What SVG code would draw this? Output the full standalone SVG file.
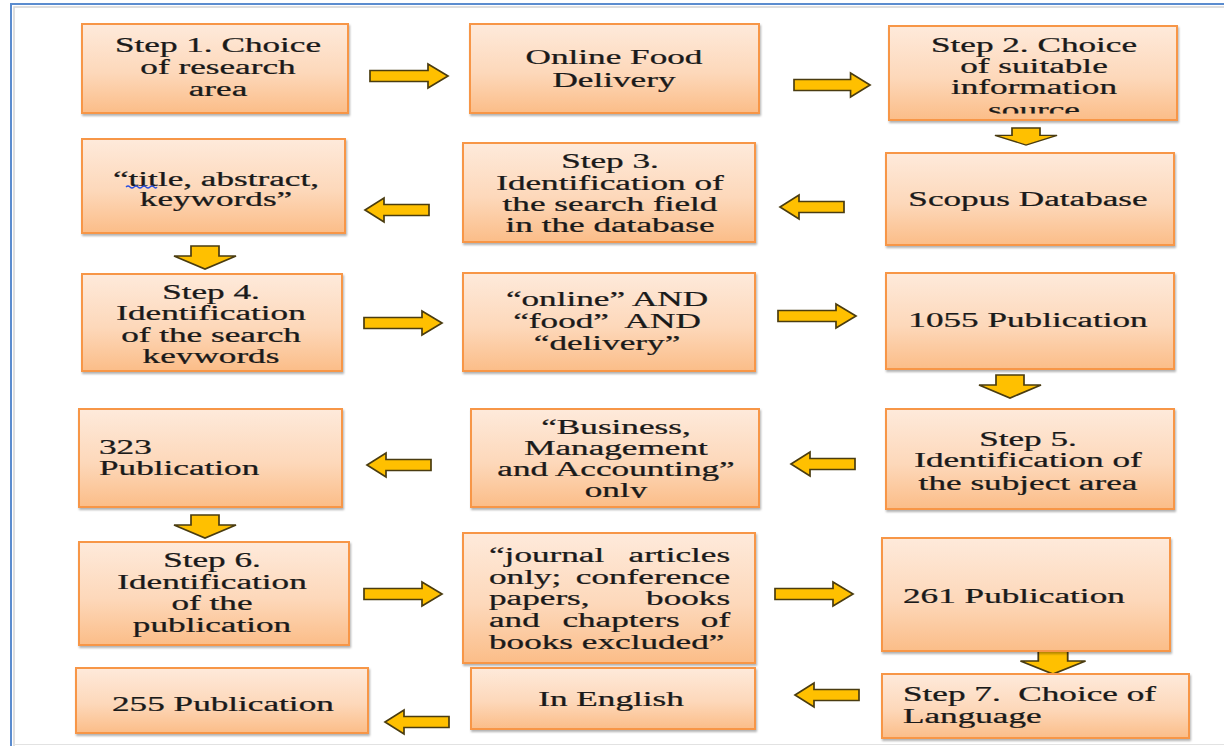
<svg xmlns="http://www.w3.org/2000/svg" width="1224" height="746" viewBox="0 0 1224 746">
<style>
.box{fill:url(#og);stroke:#F79646;stroke-width:2;filter:url(#sh)}
.t{font-family:"Liberation Serif","Times New Roman",serif;font-size:20px;fill:#1a1a1a;stroke:#1a1a1a;stroke-width:0.25}
.c{text-anchor:middle}
.arr{fill:#FFC000;stroke:#4a3c10;stroke-width:1.7;stroke-linejoin:miter}
</style>
<defs>
<linearGradient id="og" x1="0" y1="0" x2="0" y2="1">
<stop offset="0" stop-color="#FEEADB"/>
<stop offset="0.55" stop-color="#FDD8BA"/>
<stop offset="1" stop-color="#FBBD88"/>
</linearGradient>
<filter id="sh" x="-5%" y="-5%" width="112%" height="115%">
<feDropShadow dx="1" dy="2" stdDeviation="1.2" flood-color="#000" flood-opacity="0.3"/>
</filter>
<path id="ra" d="M0,-5.5 H58 V-12 L78,0 L58,12 V5.5 H0 Z"/>
<path id="la" d="M0,-5.5 H-45 V-12 L-64,0 L-45,12 V5.5 H0 Z"/>
<path id="da" d="M-14,0 H14 V10 H31 L0,23 L-31,10 H-14 Z"/>
<clipPath id="clipC"><rect x="889" y="26" width="288" height="87.5"/></clipPath>
<clipPath id="clipG"><rect x="82" y="274" width="260" height="90"/></clipPath>
<clipPath id="clipK"><rect x="471" y="409" width="288" height="89"/></clipPath>
</defs>

<rect width="1224" height="746" fill="#ffffff"/>
<g id="frame" fill="none">
<path d="M11,746 V4 H1224" stroke="#5B8CCF" stroke-width="2"/>
<path d="M14,746 V7 H1224" stroke="#d4d4d4" stroke-width="1.5"/>
<path d="M13,744.5 H1224" stroke="#e2e2e2" stroke-width="1"/>
</g>

<g id="connectors">
<use href="#ra" class="arr" transform="translate(370,76)"/>
<use href="#ra" class="arr" transform="translate(794,85) scale(0.975,1)"/>
<use href="#da" class="arr" transform="translate(1026,128) scale(1,0.74)"/>
<use href="#la" class="arr" transform="translate(844,207)"/>
<use href="#la" class="arr" transform="translate(429,210)"/>
<use href="#da" class="arr" transform="translate(205,246)"/>
<use href="#ra" class="arr" transform="translate(364,323)"/>
<use href="#ra" class="arr" transform="translate(778,316)"/>
<use href="#da" class="arr" transform="translate(1010,375)"/>
<use href="#la" class="arr" transform="translate(855,464)"/>
<use href="#la" class="arr" transform="translate(431,465)"/>
<use href="#da" class="arr" transform="translate(205,515)"/>
<use href="#ra" class="arr" transform="translate(364,594)"/>
<use href="#ra" class="arr" transform="translate(775,594)"/>
<use href="#da" class="arr" transform="translate(1053,651) scale(1.05,1)"/>
<use href="#la" class="arr" transform="translate(859,695)"/>
<use href="#la" class="arr" transform="translate(449,722)"/>
</g>

<g id="n1">
<rect class="box" x="82" y="24" width="266" height="89"/>
<g class="t c" transform="translate(218,0) scale(1.76,1)">
<text x="0" y="52">Step 1. Choice</text>
<text x="0" y="74">of research</text>
<text x="0" y="96">area</text>
</g>
</g>

<g id="n2">
<rect class="box" x="470" y="24" width="289" height="89"/>
<g class="t c" transform="translate(614,0) scale(1.76,1)">
<text x="0" y="64">Online Food</text>
<text x="0" y="87">Delivery</text>
</g>
</g>

<g id="n3">
<rect class="box" x="889" y="26" width="288" height="94"/>
<g clip-path="url(#clipC)">
<g class="t c" transform="translate(1034,0) scale(1.76,1)">
<text x="0" y="52">Step 2. Choice</text>
<text x="0" y="73">of suitable</text>
<text x="0" y="94">information</text>
<text x="0" y="117">source</text>
</g>
</g>
</g>

<g id="n4">
<rect class="box" x="82" y="139" width="263" height="94"/>
<g class="t c" transform="translate(216,0) scale(1.76,1)">
<text x="0" y="186">“title, abstract,</text>
<text x="0" y="206">keywords”</text>
</g>
<path d="M126,187 q2,-2 4,0 t4,0 t4,0 t4,0 t4,0 t4,0 t4,0 t3,0" fill="none" stroke="#2a4fe0" stroke-width="1.3"/>
</g>

<g id="n5">
<rect class="box" x="463" y="143" width="292" height="99"/>
<g class="t c" transform="translate(610,0) scale(1.76,1)">
<text x="0" y="168">Step 3.</text>
<text x="0" y="190">Identification of</text>
<text x="0" y="211">the search field</text>
<text x="0" y="232">in the database</text>
</g>
</g>

<g id="n6">
<rect class="box" x="886" y="153" width="288" height="92"/>
<g class="t c" transform="translate(1028,0) scale(1.76,1)">
<text x="0" y="206">Scopus Database</text>
</g>
</g>

<g id="n7">
<rect class="box" x="82" y="274" width="260" height="97"/>
<g clip-path="url(#clipG)">
<g class="t c" transform="translate(211,0) scale(1.76,1)">
<text x="0" y="299">Step 4.</text>
<text x="0" y="320">Identification</text>
<text x="0" y="342">of the search</text>
<text x="0" y="363">keywords</text>
</g>
</g>
</g>

<g id="n8">
<rect class="box" x="463" y="273" width="292" height="98"/>
<g class="t c" transform="translate(607,0) scale(1.76,1)">
<text x="0" y="306">“online” AND</text>
<text x="0" y="328">“food”&#160; AND</text>
<text x="0" y="350">“delivery”</text>
</g>
</g>

<g id="n9">
<rect class="box" x="886" y="273" width="288" height="96"/>
<g class="t c" transform="translate(1028,0) scale(1.76,1)">
<text x="0" y="327">1055 Publication</text>
</g>
</g>

<g id="n10">
<rect class="box" x="79" y="409" width="263" height="98"/>
<g class="t" transform="translate(99,0) scale(1.76,1)">
<text x="0" y="454">323</text>
<text x="0" y="475">Publication</text>
</g>
</g>

<g id="n11">
<rect class="box" x="471" y="409" width="288" height="98"/>
<g clip-path="url(#clipK)">
<g class="t c" transform="translate(616,0) scale(1.76,1)">
<text x="0" y="434">“Business,</text>
<text x="0" y="455">Management</text>
<text x="0" y="476">and Accounting”</text>
<text x="0" y="497">only</text>
</g>
</g>
</g>

<g id="n12">
<rect class="box" x="886" y="409" width="288" height="100"/>
<g class="t c" transform="translate(1028,0) scale(1.76,1)">
<text x="0" y="446">Step 5.</text>
<text x="0" y="467">Identification of</text>
<text x="0" y="490">the subject area</text>
</g>
</g>

<g id="n13">
<rect class="box" x="79" y="542" width="270" height="103"/>
<g class="t c" transform="translate(212,0) scale(1.76,1)">
<text x="0" y="567">Step 6.</text>
<text x="0" y="589">Identification</text>
<text x="0" y="610">of the</text>
<text x="0" y="632">publication</text>
</g>
</g>

<g id="n14">
<rect class="box" x="463" y="533" width="292" height="130"/>
<g class="t" transform="translate(489,0) scale(1.76,1)">
<text x="0" y="562">“journal</text>
<text x="137" y="562" text-anchor="end">articles</text>
<text x="0" y="584">only;</text>
<text x="137" y="584" text-anchor="end">conference</text>
<text x="0" y="605">papers,</text>
<text x="137" y="605" text-anchor="end">books</text>
<text x="0" y="627">and</text>
<text x="75" y="627" text-anchor="middle">chapters</text>
<text x="137" y="627" text-anchor="end">of</text>
<text x="0" y="649">books excluded”</text>
</g>
</g>

<g id="n15">
<rect class="box" x="882" y="538" width="288" height="113"/>
<g class="t" transform="translate(903,0) scale(1.76,1)">
<text x="0" y="603">261 Publication</text>
</g>
</g>

<g id="n16">
<rect class="box" x="76" y="668" width="292" height="65"/>
<g class="t" transform="translate(112,0) scale(1.76,1)">
<text x="0" y="711">255 Publication</text>
</g>
</g>

<g id="n17">
<rect class="box" x="471" y="668" width="284" height="61"/>
<g class="t c" transform="translate(611,0) scale(1.76,1)">
<text x="0" y="706">In English</text>
</g>
</g>

<g id="n18">
<rect class="box" x="882" y="674" width="307" height="64"/>
<g class="t" transform="translate(903,0) scale(1.76,1)">
<text x="0" y="701">Step 7.&#160; Choice of</text>
<text x="0" y="723">Language</text>
</g>
</g>
</svg>
